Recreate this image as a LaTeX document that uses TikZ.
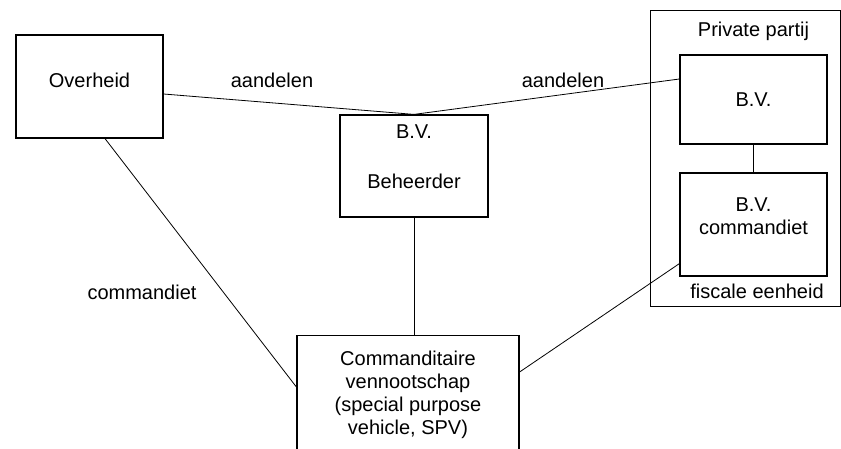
\documentclass[tikz,border=0pt]{standalone}
\usepackage{fontspec}
\setmainfont{Liberation Sans}
\usepackage{tikz}
\usetikzlibrary{positioning}

\begin{document}
\begin{tikzpicture}[x=1pt, y=-1pt, auto, thin]
      \tikzstyle{every node}=[font=\fontsize{20}{23}\selectfont, text=black]
      \tikzstyle{entity}=[draw=black, line width=1.2pt, rectangle, inner sep=0pt, align=center]
      \tikzstyle{link}=[draw=black, line width=0.8pt]

      \useasboundingbox (0,0) rectangle (841,449);

      \node[entity, line width=1pt, minimum width=190pt, minimum height=295pt] (pp) at (745,158.5) {};
      \node[entity, minimum width=147pt, minimum height=103pt, text depth=13pt] (ovh) at (89.5,86.5) {Overheid};
      \node[entity, minimum width=148pt, minimum height=102pt, text depth=18pt] (beh) at (414,166) {B.V.\\[27pt]Beheerder};
      \node[entity, minimum width=147pt, minimum height=89pt] (bvp) at (753.5,99.5) {B.V.};
      \node[entity, minimum width=147pt, minimum height=103pt, text height=21pt] (bvc) at (753.5,224.5) {B.V.\\commandiet};
      \node[entity, anchor=north, minimum width=222pt, inner ysep=15pt] (spv) at (408,335)
            {Commanditaire\\vennootschap\\(special purpose\\vehicle, SPV)};

      \node (ppl) [above=10.5pt of bvp] {Private partij};
      \node (fe) [below=4pt of bvc, xshift=3.5pt] {fiscale eenheid};
      \node (aand1) at (272,80) {aandelen};
      \node (aand2) at (563,80) {aandelen};
      \node (comm) at (142,292) {commandiet};

      \draw[link] ([yshift=-7.5pt]ovh.east) -- (beh.north) -- ([yshift=20.5pt]bvp.west);
      \draw[link] (bvp) -- (bvc);
      \draw[link] (beh.south) -- (beh.south |- spv.north);
      \draw[link] ([xshift=15.5pt]ovh.south) -- ([yshift=-52pt]spv.north west);
      \draw[link] ([yshift=13pt]bvc.south west) -- ([yshift=-37pt]spv.north east);

      \end{tikzpicture}
\end{document}
